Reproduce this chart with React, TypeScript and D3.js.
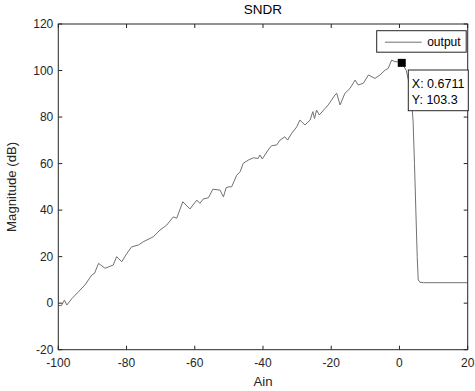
import React from "react";
import * as d3 from "d3";

// Ain (dB) and SNDR (dB)
const ain = [
  -100, -99.1, -98.2, -97.5, -96, -94.1, -92.2, -90.2, -89.4, -88.2, -86.3, -83.9, -82.9,
  -81.4, -79.9, -78.5, -76.5, -75.1, -72.2, -70.2, -68.2, -66.3, -65.3, -63.5, -61.4,
  -59.4, -58.5, -57.5, -56, -54.7, -52.6, -51.6, -50.8, -50.0, -49.2, -47.7, -46.7, -45.8,
  -44.3, -42.8, -41.4, -40.9, -40.2, -38.5, -37.5, -36, -35, -33.6, -32.8, -31.6, -30.1,
  -29.2, -27.7, -26.2, -25.4, -24.9, -24.3, -23.5, -21.8, -20.9, -19.9, -18.9, -18.4,
  -17.4, -16, -14.5, -13, -12.1, -10.6, -9.1, -7.2, -5.7, -4.2, -3.3, -2.3, -1.3, -0.6,
  0.6711, 2, 3, 3.6, 4, 4.4, 4.8, 5.2, 5.5, 6, 7, 20,
];
const sndr = [
  -1, -1.1, 1.3, -0.8, 2, 4.9, 7.8, 12.1, 12.8, 17.1, 15, 16.4, 20, 17.8, 21.4, 24.2, 25,
  26.4, 28.5, 31.4, 33.6, 37.1, 36.5, 43.6, 40.5, 44.3, 42.9, 44.8, 45.3, 49, 48.6, 45.7,
  49.6, 50, 50, 55, 56.5, 60.1, 61.5, 62.5, 62.2, 63.7, 62, 65.8, 67.7, 68, 70.1, 71.5,
  70.1, 73, 75.8, 78.7, 76.6, 78.7, 82.3, 79.4, 83, 80.9, 83.7, 85.2, 87.3, 89.5, 90.2,
  85.2, 90.2, 92.3, 95.9, 93.8, 94.5, 98.1, 96.6, 98.1, 100.2, 100.9, 104.5, 103.8, 103.8,
  103.3, 100, 93.5, 86, 78, 60, 40, 20, 10, 9, 8.8, 8.8,
];
const xTicks = [-100, -80, -60, -40, -20, 0, 20];
const yTicks = [-20, 0, 20, 40, 60, 80, 100, 120];
const tipX = 0.6711;
const tipY = 103.3;

const W = 475;
const H = 391;
const margin = { top: 24, right: 7.3, bottom: 41.3, left: 58.3 };
const font = "'Liberation Sans', Arial, Helvetica, sans-serif";
const axisColor = "#262626";

const App: React.FC = () => {
  const innerW = W - margin.left - margin.right;
  const innerH = H - margin.top - margin.bottom;

  const x = d3.scaleLinear().domain([-100, 20]).range([0, innerW]);
  const y = d3.scaleLinear().domain([-20, 120]).range([innerH, 0]);

  const points = ain.map((a, i) => [a, sndr[i]] as [number, number]);
  const line = d3
    .line<[number, number]>()
    .x((d) => x(d[0]))
    .y((d) => y(d[1]));

  const tickLen = 4;
  const mx = x(tipX);
  const my = y(tipY);

  return (
    <>
      <style>{"body{margin:0}"}</style>
      <svg width={W} height={H} style={{ display: "block", background: "#fff" }} fontFamily={font}>
        <text x={margin.left + innerW / 2} y={14} textAnchor="middle" fontSize={13.5} fill="#000">
          SNDR
        </text>
        <g transform={`translate(${margin.left},${margin.top})`}>
          <defs>
            <clipPath id="plot-clip">
              <rect x={0} y={0} width={innerW} height={innerH} />
            </clipPath>
          </defs>
          <path
            d={line(points) || ""}
            fill="none"
            stroke="#707070"
            strokeWidth={1}
            clipPath="url(#plot-clip)"
          />

          {/* box */}
          <rect x={0} y={0} width={innerW} height={innerH} fill="none" stroke={axisColor} strokeWidth={1} />

          {/* x ticks */}
          {xTicks.map((t) => (
            <g key={"x" + t} transform={`translate(${x(t)},0)`}>
              <line y1={innerH} y2={innerH - tickLen} stroke={axisColor} />
              <line y1={0} y2={tickLen} stroke={axisColor} />
              <text y={innerH + 17} textAnchor="middle" fontSize={12} fill={axisColor}>
                {t}
              </text>
            </g>
          ))}

          {/* y ticks */}
          {yTicks.map((t) => (
            <g key={"y" + t} transform={`translate(0,${y(t)})`}>
              <line x1={0} x2={tickLen} stroke={axisColor} />
              <line x1={innerW} x2={innerW - tickLen} stroke={axisColor} />
              <text x={-5} dy="0.35em" textAnchor="end" fontSize={12} fill={axisColor}>
                {t}
              </text>
            </g>
          ))}

          <text x={innerW / 2} y={innerH + 36} textAnchor="middle" fontSize={13.2} fill={axisColor}>
            Ain
          </text>
          <text
            transform={`translate(${-42},${innerH / 2}) rotate(-90)`}
            textAnchor="middle"
            fontSize={13.2}
            fill={axisColor}
          >
            Magnitude (dB)
          </text>

          {/* legend */}
          <g transform={`translate(${376.7 - margin.left},${30.7 - margin.top})`}>
            <rect x={0} y={0} width={89.5} height={21.5} fill="#fff" stroke={axisColor} strokeWidth={1} />
            <line x1={8.3} x2={45} y1={11.5} y2={11.5} stroke="#707070" strokeWidth={1} />
            <text x={50.5} y={11.5} dy="0.35em" fontSize={12} fill="#000">
              output
            </text>
          </g>

          {/* data tip */}
          <rect x={mx - 4} y={my - 4} width={8} height={8} fill="#000" />
          <g transform={`translate(${408.3 - margin.left},${70 - margin.top})`}>
            <rect x={0} y={0} width={60} height={40.7} fill="#fff" stroke={axisColor} strokeWidth={1} />
            <text x={3.5} y={13.3} dy="0.35em" fontSize={12.5} fill="#000">
              X: {tipX}
            </text>
            <text x={3.5} y={30} dy="0.35em" fontSize={12.5} fill="#000">
              Y: {tipY}
            </text>
          </g>
        </g>
      </svg>
    </>
  );
};

export default App;
